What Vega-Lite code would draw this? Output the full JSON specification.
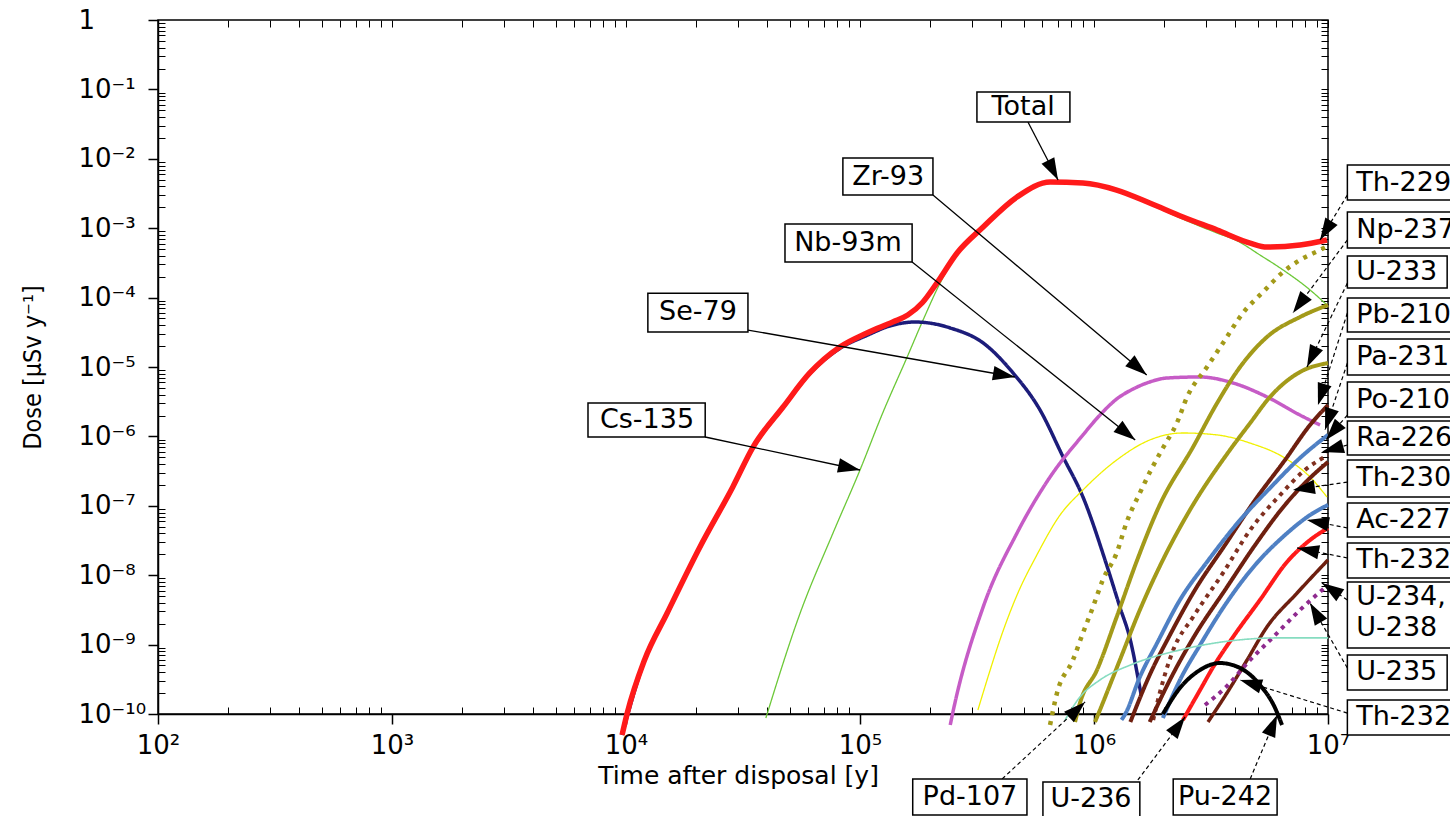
{
  "$schema": "https://vega.github.io/schema/vega-lite/v6.json",
  "width": 1170,
  "height": 694,
  "autosize": "none",
  "padding": {"left": 158, "top": 20, "right": 122, "bottom": 102},
  "background": "white",
  "config": {
    "view": {"stroke": "black", "strokeWidth": 1.5},
    "font": "DejaVu Sans",
    "axis": {"domainColor": "black", "tickColor": "black", "labelColor": "black", "titleColor": "black", "grid": false}
  },
  "datasets": {
    "series": [
      {"nuclide": "Total", "time": 9620, "dose": 4.98e-11},
      {"nuclide": "Total", "time": 10100, "dose": 1e-10},
      {"nuclide": "Total", "time": 12000, "dose": 6.0e-10},
      {"nuclide": "Total", "time": 15000, "dose": 2.85e-9},
      {"nuclide": "Total", "time": 20700, "dose": 2.55e-8},
      {"nuclide": "Total", "time": 28600, "dose": 1.87e-7},
      {"nuclide": "Total", "time": 34900, "dose": 7.0e-7},
      {"nuclide": "Total", "time": 46900, "dose": 2.65e-6},
      {"nuclide": "Total", "time": 61000, "dose": 8.2e-6},
      {"nuclide": "Total", "time": 82000, "dose": 1.94e-5},
      {"nuclide": "Total", "time": 107000, "dose": 3.09e-5},
      {"nuclide": "Total", "time": 138000, "dose": 4.45e-5},
      {"nuclide": "Total", "time": 160000, "dose": 5.6e-5},
      {"nuclide": "Total", "time": 185000, "dose": 8.5e-5},
      {"nuclide": "Total", "time": 213000, "dose": 1.62e-4},
      {"nuclide": "Total", "time": 260000, "dose": 4.4e-4},
      {"nuclide": "Total", "time": 336000, "dose": 1.04e-3},
      {"nuclide": "Total", "time": 469000, "dose": 2.82e-3},
      {"nuclide": "Total", "time": 650000, "dose": 4.63e-3},
      {"nuclide": "Total", "time": 897000, "dose": 4.48e-3},
      {"nuclide": "Total", "time": 1250000, "dose": 3.55e-3},
      {"nuclide": "Total", "time": 1730000, "dose": 2.31e-3},
      {"nuclide": "Total", "time": 2400000, "dose": 1.45e-3},
      {"nuclide": "Total", "time": 3360000, "dose": 9.4e-4},
      {"nuclide": "Total", "time": 4650000, "dose": 6.1e-4},
      {"nuclide": "Total", "time": 5490000, "dose": 5.36e-4},
      {"nuclide": "Total", "time": 7590000, "dose": 5.73e-4},
      {"nuclide": "Total", "time": 9900000, "dose": 6.76e-4},

      {"nuclide": "Cs-135", "time": 39600, "dose": 8.75e-11},
      {"nuclide": "Cs-135", "time": 55500, "dose": 2.85e-9},
      {"nuclide": "Cs-135", "time": 76700, "dose": 4.06e-8},
      {"nuclide": "Cs-135", "time": 100000, "dose": 3.28e-7},
      {"nuclide": "Cs-135", "time": 125000, "dose": 2.17e-6},
      {"nuclide": "Cs-135", "time": 159000, "dose": 1.39e-5},
      {"nuclide": "Cs-135", "time": 186000, "dose": 4.75e-5},
      {"nuclide": "Cs-135", "time": 220000, "dose": 1.62e-4},
      {"nuclide": "Cs-135", "time": 260000, "dose": 4.2e-4},
      {"nuclide": "Cs-135", "time": 336000, "dose": 1.0e-3},
      {"nuclide": "Cs-135", "time": 469000, "dose": 2.75e-3},
      {"nuclide": "Cs-135", "time": 650000, "dose": 4.5e-3},
      {"nuclide": "Cs-135", "time": 897000, "dose": 4.35e-3},
      {"nuclide": "Cs-135", "time": 1250000, "dose": 3.45e-3},
      {"nuclide": "Cs-135", "time": 1730000, "dose": 2.2e-3},
      {"nuclide": "Cs-135", "time": 2400000, "dose": 1.35e-3},
      {"nuclide": "Cs-135", "time": 3360000, "dose": 8.5e-4},
      {"nuclide": "Cs-135", "time": 4080000, "dose": 6.6e-4},
      {"nuclide": "Cs-135", "time": 5120000, "dose": 4.11e-4},
      {"nuclide": "Cs-135", "time": 6430000, "dose": 2.5e-4},
      {"nuclide": "Cs-135", "time": 8380000, "dose": 1.29e-4},
      {"nuclide": "Cs-135", "time": 9900000, "dose": 7.8e-5},

      {"nuclide": "Se-79", "time": 9620, "dose": 4.98e-11},
      {"nuclide": "Se-79", "time": 12000, "dose": 5.9e-10},
      {"nuclide": "Se-79", "time": 15000, "dose": 2.8e-9},
      {"nuclide": "Se-79", "time": 20700, "dose": 2.5e-8},
      {"nuclide": "Se-79", "time": 28600, "dose": 1.83e-7},
      {"nuclide": "Se-79", "time": 34900, "dose": 6.8e-7},
      {"nuclide": "Se-79", "time": 46900, "dose": 2.6e-6},
      {"nuclide": "Se-79", "time": 61000, "dose": 8.0e-6},
      {"nuclide": "Se-79", "time": 82000, "dose": 1.85e-5},
      {"nuclide": "Se-79", "time": 107000, "dose": 2.85e-5},
      {"nuclide": "Se-79", "time": 134000, "dose": 3.9e-5},
      {"nuclide": "Se-79", "time": 172000, "dose": 4.45e-5},
      {"nuclide": "Se-79", "time": 209000, "dose": 4.17e-5},
      {"nuclide": "Se-79", "time": 243000, "dose": 3.65e-5},
      {"nuclide": "Se-79", "time": 336000, "dose": 2.22e-5},
      {"nuclide": "Se-79", "time": 451000, "dose": 8.2e-6},
      {"nuclide": "Se-79", "time": 588000, "dose": 2.4e-6},
      {"nuclide": "Se-79", "time": 738000, "dose": 5.05e-7},
      {"nuclide": "Se-79", "time": 897000, "dose": 1.34e-7},
      {"nuclide": "Se-79", "time": 1140000, "dose": 1.31e-8},
      {"nuclide": "Se-79", "time": 1290000, "dose": 3.48e-9},
      {"nuclide": "Se-79", "time": 1430000, "dose": 1.16e-9},
      {"nuclide": "Se-79", "time": 1540000, "dose": 3.4e-10},
      {"nuclide": "Se-79", "time": 1590000, "dose": 1.88e-10},

      {"nuclide": "Zr-93", "time": 243000, "dose": 6.94e-11},
      {"nuclide": "Zr-93", "time": 249000, "dose": 1.03e-10},
      {"nuclide": "Zr-93", "time": 336000, "dose": 3.48e-9},
      {"nuclide": "Zr-93", "time": 469000, "dose": 4.06e-8},
      {"nuclide": "Zr-93", "time": 649000, "dose": 2.6e-7},
      {"nuclide": "Zr-93", "time": 897000, "dose": 1.05e-6},
      {"nuclide": "Zr-93", "time": 1060000, "dose": 2.03e-6},
      {"nuclide": "Zr-93", "time": 1250000, "dose": 3.46e-6},
      {"nuclide": "Zr-93", "time": 1470000, "dose": 4.82e-6},
      {"nuclide": "Zr-93", "time": 1730000, "dose": 6.08e-6},
      {"nuclide": "Zr-93", "time": 2050000, "dose": 6.94e-6},
      {"nuclide": "Zr-93", "time": 2840000, "dose": 7.18e-6},
      {"nuclide": "Zr-93", "time": 3930000, "dose": 5.88e-6},
      {"nuclide": "Zr-93", "time": 5490000, "dose": 3.7e-6},
      {"nuclide": "Zr-93", "time": 7590000, "dose": 2.03e-6},
      {"nuclide": "Zr-93", "time": 9250000, "dose": 1.46e-6},

      {"nuclide": "Nb-93m", "time": 319000, "dose": 1.14e-10},
      {"nuclide": "Nb-93m", "time": 360000, "dose": 4.31e-10},
      {"nuclide": "Nb-93m", "time": 396000, "dose": 1.16e-9},
      {"nuclide": "Nb-93m", "time": 469000, "dose": 5.19e-9},
      {"nuclide": "Nb-93m", "time": 570000, "dose": 1.96e-8},
      {"nuclide": "Nb-93m", "time": 716000, "dose": 7.36e-8},
      {"nuclide": "Nb-93m", "time": 897000, "dose": 1.69e-7},
      {"nuclide": "Nb-93m", "time": 1250000, "dose": 4.57e-7},
      {"nuclide": "Nb-93m", "time": 1730000, "dose": 8.87e-7},
      {"nuclide": "Nb-93m", "time": 2400000, "dose": 1.12e-6},
      {"nuclide": "Nb-93m", "time": 3360000, "dose": 1.05e-6},
      {"nuclide": "Nb-93m", "time": 4650000, "dose": 8.0e-7},
      {"nuclide": "Nb-93m", "time": 6430000, "dose": 5.05e-7},
      {"nuclide": "Nb-93m", "time": 8380000, "dose": 2.6e-7},
      {"nuclide": "Nb-93m", "time": 9900000, "dose": 1.34e-7},

      {"nuclide": "Th-229", "time": 649000, "dose": 6.94e-11},
      {"nuclide": "Th-229", "time": 695000, "dose": 2.01e-10},
      {"nuclide": "Th-229", "time": 813000, "dose": 6.0e-10},
      {"nuclide": "Th-229", "time": 897000, "dose": 1.47e-9},
      {"nuclide": "Th-229", "time": 990000, "dose": 3.48e-9},
      {"nuclide": "Th-229", "time": 1090000, "dose": 8.53e-9},
      {"nuclide": "Th-229", "time": 1250000, "dose": 2.09e-8},
      {"nuclide": "Th-229", "time": 1380000, "dose": 5.85e-8},
      {"nuclide": "Th-229", "time": 1570000, "dose": 1.53e-7},
      {"nuclide": "Th-229", "time": 1770000, "dose": 3.51e-7},
      {"nuclide": "Th-229", "time": 1970000, "dose": 6.81e-7},
      {"nuclide": "Th-229", "time": 2260000, "dose": 1.56e-6},
      {"nuclide": "Th-229", "time": 2500000, "dose": 3.7e-6},
      {"nuclide": "Th-229", "time": 3040000, "dose": 1.0e-5},
      {"nuclide": "Th-229", "time": 3560000, "dose": 2.22e-5},
      {"nuclide": "Th-229", "time": 4330000, "dose": 6.0e-5},
      {"nuclide": "Th-229", "time": 5270000, "dose": 1.2e-4},
      {"nuclide": "Th-229", "time": 6430000, "dose": 2.34e-4},
      {"nuclide": "Th-229", "time": 7590000, "dose": 3.48e-4},
      {"nuclide": "Th-229", "time": 9250000, "dose": 4.85e-4},
      {"nuclide": "Th-229", "time": 10000000, "dose": 5.54e-4},

      {"nuclide": "Np-237", "time": 830000, "dose": 7.67e-11},
      {"nuclide": "Np-237", "time": 871000, "dose": 1.44e-10},
      {"nuclide": "Np-237", "time": 1030000, "dose": 4.31e-10},
      {"nuclide": "Np-237", "time": 1250000, "dose": 2.5e-9},
      {"nuclide": "Np-237", "time": 1530000, "dose": 1.66e-8},
      {"nuclide": "Np-237", "time": 1910000, "dose": 1.03e-7},
      {"nuclide": "Np-237", "time": 2650000, "dose": 7.03e-7},
      {"nuclide": "Np-237", "time": 3360000, "dose": 3.03e-6},
      {"nuclide": "Np-237", "time": 4210000, "dose": 1.0e-5},
      {"nuclide": "Np-237", "time": 5480000, "dose": 2.7e-5},
      {"nuclide": "Np-237", "time": 7590000, "dose": 5.25e-5},
      {"nuclide": "Np-237", "time": 10000000, "dose": 7.82e-5},

      {"nuclide": "U-233", "time": 1010000, "dose": 7.67e-11},
      {"nuclide": "U-233", "time": 1060000, "dose": 1.14e-10},
      {"nuclide": "U-233", "time": 1290000, "dose": 6.0e-10},
      {"nuclide": "U-233", "time": 1570000, "dose": 3.15e-9},
      {"nuclide": "U-233", "time": 1970000, "dose": 1.66e-8},
      {"nuclide": "U-233", "time": 2570000, "dose": 8.69e-8},
      {"nuclide": "U-233", "time": 3810000, "dose": 6.37e-7},
      {"nuclide": "U-233", "time": 4650000, "dose": 1.56e-6},
      {"nuclide": "U-233", "time": 5650000, "dose": 3.7e-6},
      {"nuclide": "U-233", "time": 7590000, "dose": 8.47e-6},
      {"nuclide": "U-233", "time": 10000000, "dose": 1.14e-5},

      {"nuclide": "Pb-210", "time": 1430000, "dose": 7.67e-11},
      {"nuclide": "Pb-210", "time": 1730000, "dose": 3.65e-10},
      {"nuclide": "Pb-210", "time": 2110000, "dose": 1.37e-9},
      {"nuclide": "Pb-210", "time": 2700000, "dose": 6.12e-9},
      {"nuclide": "Pb-210", "time": 3630000, "dose": 2.72e-8},
      {"nuclide": "Pb-210", "time": 4880000, "dose": 1.21e-7},
      {"nuclide": "Pb-210", "time": 6550000, "dose": 4.57e-7},
      {"nuclide": "Pb-210", "time": 8380000, "dose": 1.46e-6},
      {"nuclide": "Pb-210", "time": 10000000, "dose": 2.83e-6},

      {"nuclide": "Ra-226", "time": 1310000, "dose": 8.2e-11},
      {"nuclide": "Ra-226", "time": 1360000, "dose": 1e-10},
      {"nuclide": "Ra-226", "time": 1570000, "dose": 3.41e-10},
      {"nuclide": "Ra-226", "time": 1860000, "dose": 1.05e-9},
      {"nuclide": "Ra-226", "time": 2330000, "dose": 4.4e-9},
      {"nuclide": "Ra-226", "time": 3040000, "dose": 1.55e-8},
      {"nuclide": "Ra-226", "time": 4210000, "dose": 6.24e-8},
      {"nuclide": "Ra-226", "time": 5650000, "dose": 1.8e-7},
      {"nuclide": "Ra-226", "time": 7590000, "dose": 4.89e-7},
      {"nuclide": "Ra-226", "time": 10000000, "dose": 1.05e-6},

      {"nuclide": "Th-230", "time": 1790000, "dose": 8.2e-11},
      {"nuclide": "Th-230", "time": 1910000, "dose": 2.01e-10},
      {"nuclide": "Th-230", "time": 2180000, "dose": 8.36e-10},
      {"nuclide": "Th-230", "time": 2650000, "dose": 2.5e-9},
      {"nuclide": "Th-230", "time": 3560000, "dose": 1.08e-8},
      {"nuclide": "Th-230", "time": 4650000, "dose": 4.48e-8},
      {"nuclide": "Th-230", "time": 6240000, "dose": 1.43e-7},
      {"nuclide": "Th-230", "time": 7970000, "dose": 3.28e-7},
      {"nuclide": "Th-230", "time": 10000000, "dose": 5.4e-7},

      {"nuclide": "Pa-231", "time": 1730000, "dose": 7.67e-11},
      {"nuclide": "Pa-231", "time": 2110000, "dose": 3.09e-10},
      {"nuclide": "Pa-231", "time": 2700000, "dose": 1.37e-9},
      {"nuclide": "Pa-231", "time": 3630000, "dose": 6.12e-9},
      {"nuclide": "Pa-231", "time": 4880000, "dose": 2.72e-8},
      {"nuclide": "Pa-231", "time": 6550000, "dose": 1.03e-7},
      {"nuclide": "Pa-231", "time": 8380000, "dose": 2.52e-7},
      {"nuclide": "Pa-231", "time": 10000000, "dose": 4.28e-7},

      {"nuclide": "Ac-227", "time": 1970000, "dose": 8.75e-11},
      {"nuclide": "Ac-227", "time": 2330000, "dose": 3.09e-10},
      {"nuclide": "Ac-227", "time": 2840000, "dose": 9.87e-10},
      {"nuclide": "Ac-227", "time": 3630000, "dose": 3.72e-9},
      {"nuclide": "Ac-227", "time": 4880000, "dose": 1.4e-8},
      {"nuclide": "Ac-227", "time": 6550000, "dose": 3.79e-8},
      {"nuclide": "Ac-227", "time": 8380000, "dose": 7.36e-8},
      {"nuclide": "Ac-227", "time": 10000000, "dose": 1.03e-7},

      {"nuclide": "U-236", "time": 2400000, "dose": 8.2e-11},
      {"nuclide": "U-236", "time": 2840000, "dose": 2.22e-10},
      {"nuclide": "U-236", "time": 3230000, "dose": 4.75e-10},
      {"nuclide": "U-236", "time": 3930000, "dose": 1.29e-9},
      {"nuclide": "U-236", "time": 5120000, "dose": 4.4e-9},
      {"nuclide": "U-236", "time": 6680000, "dose": 1.55e-8},
      {"nuclide": "U-236", "time": 8380000, "dose": 3.21e-8},
      {"nuclide": "U-236", "time": 10000000, "dose": 4.79e-8},

      {"nuclide": "Th-232", "time": 3070000, "dose": 7.67e-11},
      {"nuclide": "Th-232", "time": 3700000, "dose": 2.01e-10},
      {"nuclide": "Th-232", "time": 4510000, "dose": 6.0e-10},
      {"nuclide": "Th-232", "time": 5480000, "dose": 1.79e-9},
      {"nuclide": "Th-232", "time": 7380000, "dose": 5.54e-9},
      {"nuclide": "Th-232", "time": 10000000, "dose": 1.66e-8},

      {"nuclide": "U-234", "time": 2980000, "dose": 1.35e-10},
      {"nuclide": "U-234", "time": 3630000, "dose": 2.37e-10},
      {"nuclide": "U-234", "time": 4650000, "dose": 6.0e-10},
      {"nuclide": "U-234", "time": 5940000, "dose": 1.37e-9},
      {"nuclide": "U-234", "time": 7590000, "dose": 3.15e-9},
      {"nuclide": "U-234", "time": 10000000, "dose": 7.23e-9},

      {"nuclide": "Pd-107", "time": 752000, "dose": 8.2e-11},
      {"nuclide": "Pd-107", "time": 871000, "dose": 1.76e-10},
      {"nuclide": "Pd-107", "time": 1060000, "dose": 3.09e-10},
      {"nuclide": "Pd-107", "time": 1430000, "dose": 5.08e-10},
      {"nuclide": "Pd-107", "time": 2330000, "dose": 8.36e-10},
      {"nuclide": "Pd-107", "time": 3810000, "dose": 1.13e-9},
      {"nuclide": "Pd-107", "time": 6240000, "dose": 1.25e-9},
      {"nuclide": "Pd-107", "time": 10000000, "dose": 1.25e-9},

      {"nuclide": "Pu-242", "time": 1970000, "dose": 1e-10},
      {"nuclide": "Pu-242", "time": 2330000, "dose": 2.37e-10},
      {"nuclide": "Pu-242", "time": 2840000, "dose": 4.31e-10},
      {"nuclide": "Pu-242", "time": 3450000, "dose": 5.43e-10},
      {"nuclide": "Pu-242", "time": 4210000, "dose": 4.6e-10},
      {"nuclide": "Pu-242", "time": 5120000, "dose": 2.62e-10},
      {"nuclide": "Pu-242", "time": 5940000, "dose": 1.22e-10},
      {"nuclide": "Pu-242", "time": 6360000, "dose": 6.94e-11}
    ],
    "boxes": [
      {"name": "Total", "x1": 316000, "x2": 789000, "y1": 9.18e-2, "y2": 3.39e-2},
      {"name": "Zr-93", "x1": 84500, "x2": 205000, "y1": 1.03e-2, "y2": 3.01e-3},
      {"name": "Nb-93m", "x1": 47800, "x2": 167000, "y1": 1.15e-3, "y2": 3.26e-4},
      {"name": "Se-79", "x1": 12400, "x2": 33200, "y1": 1.16e-4, "y2": 3.19e-5},
      {"name": "Cs-135", "x1": 6880, "x2": 21800, "y1": 3.03e-6, "y2": 9.8e-7},
      {"name": "Pd-107", "x1": 168000, "x2": 517000, "y1": 1.16e-11, "y2": 3.51e-12},
      {"name": "U-236", "x1": 605000, "x2": 1570000, "y1": 1.05e-11, "y2": 3.28e-12},
      {"name": "Pu-242", "x1": 2180000, "x2": 6060000, "y1": 1.16e-11, "y2": 3.51e-12},
      {"name": "Th-229", "x1": 12100000, "x2": 36600000, "y1": 8.15e-3, "y2": 2.55e-3},
      {"name": "Np-237", "x1": 12100000, "x2": 36600000, "y1": 1.71e-3, "y2": 5.19e-4},
      {"name": "U-233", "x1": 12100000, "x2": 32300000, "y1": 3.97e-4, "y2": 1.37e-4},
      {"name": "Pb-210", "x1": 12100000, "x2": 36600000, "y1": 9.87e-5, "y2": 3.19e-5},
      {"name": "Pa-231", "x1": 12100000, "x2": 36600000, "y1": 2.53e-5, "y2": 7.67e-6},
      {"name": "Po-210", "x1": 12100000, "x2": 36600000, "y1": 6.08e-6, "y2": 1.90e-6},
      {"name": "Ra-226", "x1": 12100000, "x2": 36600000, "y1": 1.67e-6, "y2": 5.40e-7},
      {"name": "Th-230", "x1": 12100000, "x2": 36600000, "y1": 4.57e-7, "y2": 1.34e-7},
      {"name": "Ac-227", "x1": 12100000, "x2": 36600000, "y1": 1.10e-7, "y2": 3.55e-8},
      {"name": "Th-232", "x1": 12100000, "x2": 36600000, "y1": 2.91e-8, "y2": 9.12e-9},
      {"name": "U-234, U-238", "x1": 12100000, "x2": 36600000, "y1": 7.98e-9, "y2": 8.93e-10},
      {"name": "U-235", "x1": 12100000, "x2": 32300000, "y1": 7.08e-10, "y2": 2.22e-10},
      {"name": "Th-232 (2)", "x1": 12100000, "x2": 36600000, "y1": 1.59e-10, "y2": 4.98e-11}
    ],
    "labels_center": [
      {"text": "Total", "x": 498000, "y": 5.58e-2},
      {"text": "Zr-93", "x": 132000, "y": 5.47e-3},
      {"text": "Nb-93m", "x": 88900, "y": 6.12e-4},
      {"text": "Se-79", "x": 20300, "y": 6.2e-5},
      {"text": "Cs-135", "x": 12300, "y": 1.72e-6},
      {"text": "Pd-107", "x": 295000, "y": 6.37e-12},
      {"text": "U-236", "x": 971000, "y": 5.96e-12},
      {"text": "Pu-242", "x": 3630000, "y": 6.37e-12}
    ],
    "labels_left": [
      {"text": "Th-229", "x": 13200000, "y": 4.48e-3},
      {"text": "Np-237", "x": 13200000, "y": 9.42e-4},
      {"text": "U-233", "x": 13200000, "y": 2.34e-4},
      {"text": "Pb-210", "x": 13200000, "y": 5.61e-5},
      {"text": "Pa-231", "x": 13200000, "y": 1.39e-5},
      {"text": "Po-210", "x": 13200000, "y": 3.34e-6},
      {"text": "Ra-226", "x": 13200000, "y": 9.48e-7},
      {"text": "Th-230", "x": 13200000, "y": 2.52e-7},
      {"text": "Ac-227", "x": 13200000, "y": 6.24e-8},
      {"text": "Th-232", "x": 13200000, "y": 1.66e-8},
      {"text": "U-234,", "x": 13200000, "y": 4.85e-9},
      {"text": "U-238", "x": 13200000, "y": 1.73e-9},
      {"text": "U-235", "x": 13200000, "y": 4.03e-10},
      {"text": "Th-232", "x": 13200000, "y": 9.06e-11}
    ],
    "arrows_solid": [
      {"name": "Total", "x": 522000, "y": 3.39e-2, "x2": 702000, "y2": 4.95e-3},
      {"name": "Zr-93", "x": 205000, "y": 3.01e-3, "x2": 1680000, "y2": 7.67e-6},
      {"name": "Nb-93m", "x": 167000, "y": 3.26e-4, "x2": 1500000, "y2": 8.87e-7},
      {"name": "Se-79", "x": 33200, "y": 3.41e-5, "x2": 459000, "y2": 7.18e-6},
      {"name": "Cs-135", "x": 21800, "y": 9.8e-7, "x2": 100000, "y2": 3.28e-7}
    ],
    "arrows_dashed": [
      {"name": "Pd-107", "x": 405000, "y": 1.16e-11, "x2": 916000, "y2": 1.49e-10},
      {"name": "U-236", "x": 1540000, "y": 1.12e-11, "x2": 2450000, "y2": 9.06e-11},
      {"name": "Pu-242", "x": 4650000, "y": 1.16e-11, "x2": 6060000, "y2": 9.68e-11},
      {"name": "Th-229", "x": 12100000, "y": 3.01e-3, "x2": 9250000, "y2": 6.76e-4},
      {"name": "Np-237", "x": 12100000, "y": 6.76e-4, "x2": 7080000, "y2": 6.0e-5},
      {"name": "U-233", "x": 12100000, "y": 1.62e-4, "x2": 8130000, "y2": 1.0e-5},
      {"name": "Pb-210", "x": 12100000, "y": 6.0e-5, "x2": 9060000, "y2": 2.83e-6},
      {"name": "Pa-231", "x": 12100000, "y": 1.14e-5, "x2": 9710000, "y2": 1.24e-6},
      {"name": "Po-210", "x": 12100000, "y": 2.03e-6, "x2": 9800000, "y2": 8.87e-7},
      {"name": "Ra-226", "x": 12100000, "y": 7.52e-7, "x2": 9420000, "y2": 5.96e-7},
      {"name": "Th-230", "x": 12100000, "y": 2.2e-7, "x2": 7080000, "y2": 1.69e-7},
      {"name": "Ac-227", "x": 12100000, "y": 4.79e-8, "x2": 8130000, "y2": 6.24e-8},
      {"name": "Th-232", "x": 12100000, "y": 1.77e-8, "x2": 7380000, "y2": 2.47e-8},
      {"name": "U-234, U-238", "x": 12100000, "y": 4.40e-9, "x2": 9420000, "y2": 7.72e-9},
      {"name": "U-235", "x": 12100000, "y": 4.60e-10, "x2": 8380000, "y2": 3.97e-9},
      {"name": "Th-232 (2)", "x": 12100000, "y": 1.03e-10, "x2": 4210000, "y2": 3.09e-10}
    ]
  },
  "resolve": {"axis": {"x": "independent", "y": "independent"}},
  "layer": [
    {
      "data": {"name": "series"},
      "transform": [{"filter": "datum.nuclide != 'Total'"}],
      "mark": {"type": "line", "strokeJoin": "round", "strokeCap": "butt", "interpolate": "monotone"},
      "encoding": {
        "x": {"field": "time", "type": "quantitative",
          "scale": {"type": "log", "domain": [100, 10000000], "nice": false},
          "axis": {"orient": "bottom", "values": [100, 1000, 10000, 100000, 1000000, 10000000],
            "tickSize": 10, "tickWidth": 1.5, "domainWidth": 1.5,
            "labelFont": "DejaVu Sans", "labelFontSize": 26, "labelPadding": 8, "labelFlush": false, "labelOverlap": false,
            "labelExpr": "'10' + ['⁰','¹','²','³','⁴','⁵','⁶','⁷'][round(log(datum.value)/LN10)]",
            "title": "Time after disposal [y]", "titleFont": "DejaVu Sans", "titleFontSize": 25, "titleFontWeight": "normal",
            "titleY": 61, "titleX": 580, "titleBaseline": "middle"}},
        "y": {"field": "dose", "type": "quantitative",
          "scale": {"type": "log", "domain": [1e-10, 1], "nice": false},
          "axis": {"orient": "left", "values": [1e-10, 1e-9, 1e-8, 1e-7, 1e-6, 1e-5, 1e-4, 1e-3, 1e-2, 1e-1, 1],
            "tickSize": 10, "tickWidth": 1.5, "domainWidth": 1.5,
            "labelFont": "DejaVu Sans", "labelFontSize": 26, "labelPadding": 70, "labelAlign": "left", "labelBaseline": "middle",
            "labelFlush": false, "labelOverlap": false,
            "labelExpr": "datum.value >= 0.99 ? ' 1' : '10⁻' + ['','¹','²','³','⁴','⁵','⁶','⁷','⁸','⁹','¹⁰'][round(-log(datum.value)/LN10)]",
            "title": "Dose [µSv y⁻¹]", "titleFont": "DejaVu Sans Condensed, DejaVu Sans", "titleFontSize": 25, "titleFontWeight": "normal",
            "titleX": -126, "titleY": 347, "titleAngle": -90, "titleBaseline": "middle", "titleAlign": "center"}},
        "color": {"field": "nuclide", "type": "nominal", "legend": null,
          "scale": {"domain": ["Cs-135","Se-79","Zr-93","Nb-93m","Th-229","Np-237","U-233","Pb-210","Ra-226","Th-230","Pa-231","Ac-227","U-236","Th-232","U-234","Pd-107","Pu-242"],
            "range": ["#6cc838","#1c1c7a","#c65cc6","#f0f000","#a39a19","#a39a19","#a39a19","#6e1f0f","#4f80c4","#803020","#6e1f0f","#4f80c4","#ff1a1a","#6e1f0f","#8f2a8f","#86dcc0","#000000"]}},
        "strokeWidth": {"field": "nuclide", "type": "nominal", "legend": null,
          "scale": {"type": "ordinal", "domain": ["Cs-135","Se-79","Zr-93","Nb-93m","Th-229","Np-237","U-233","Pb-210","Ra-226","Th-230","Pa-231","Ac-227","U-236","Th-232","U-234","Pd-107","Pu-242"],
            "range": [1.3, 3.5, 3.5, 1.3, 4.5, 4, 4, 4, 4, 4, 4, 4, 4, 3.5, 4, 1.6, 4]}},
        "strokeDash": {"field": "nuclide", "type": "nominal", "legend": null,
          "scale": {"domain": ["Cs-135","Se-79","Zr-93","Nb-93m","Th-229","Np-237","U-233","Pb-210","Ra-226","Th-230","Pa-231","Ac-227","U-236","Th-232","U-234","Pd-107","Pu-242"],
            "range": [[1,0],[1,0],[1,0],[1,0],[4,6],[1,0],[1,0],[1,0],[1,0],[4,5],[1,0],[1,0],[1,0],[1,0],[4,5],[1,0],[1,0]]}}
      }
    },
    {
      "data": {"name": "series"},
      "transform": [{"filter": "datum.nuclide == 'Total'"}],
      "mark": {"type": "line", "color": "#ff1a1a", "strokeWidth": 5.5, "strokeJoin": "round", "interpolate": "monotone"},
      "encoding": {
        "x": {"field": "time", "type": "quantitative",
          "scale": {"type": "log", "domain": [100, 10000000], "nice": false},
          "axis": {"orient": "bottom", "values": [200,300,400,500,600,700,800,900,2000,3000,4000,5000,6000,7000,8000,9000,20000,30000,40000,50000,60000,70000,80000,90000,200000,300000,400000,500000,600000,700000,800000,900000,2000000,3000000,4000000,5000000,6000000,7000000,8000000,9000000],
            "tickSize": -7, "tickWidth": 1, "labels": false, "domain": false, "title": null}},
        "y": {"field": "dose", "type": "quantitative",
          "scale": {"type": "log", "domain": [1e-10, 1], "nice": false},
          "axis": {"orient": "left", "values": [2e-10,3e-10,4e-10,5e-10,6e-10,7e-10,8e-10,9e-10,2e-9,3e-9,4e-9,5e-9,6e-9,7e-9,8e-9,9e-9,2e-8,3e-8,4e-8,5e-8,6e-8,7e-8,8e-8,9e-8,2e-7,3e-7,4e-7,5e-7,6e-7,7e-7,8e-7,9e-7,2e-6,3e-6,4e-6,5e-6,6e-6,7e-6,8e-6,9e-6,2e-5,3e-5,4e-5,5e-5,6e-5,7e-5,8e-5,9e-5,2e-4,3e-4,4e-4,5e-4,6e-4,7e-4,8e-4,9e-4,2e-3,3e-3,4e-3,5e-3,6e-3,7e-3,8e-3,9e-3,2e-2,3e-2,4e-2,5e-2,6e-2,7e-2,8e-2,9e-2,0.2,0.3,0.4,0.5,0.6,0.7,0.8,0.9],
            "tickSize": -7, "tickWidth": 1, "labels": false, "domain": false, "title": null}}
      }
    },
    {
      "data": {"name": "arrows_solid"},
      "mark": {"type": "rule", "color": "black", "strokeWidth": 1.3},
      "encoding": {
        "x": {"field": "x", "type": "quantitative",
          "scale": {"type": "log", "domain": [100, 10000000], "nice": false},
          "axis": {"orient": "top", "values": [100,1000,10000,100000,1000000,10000000,200,300,400,500,600,700,800,900,2000,3000,4000,5000,6000,7000,8000,9000,20000,30000,40000,50000,60000,70000,80000,90000,200000,300000,400000,500000,600000,700000,800000,900000,2000000,3000000,4000000,5000000,6000000,7000000,8000000,9000000],
            "tickSize": -7, "tickWidth": 1, "labels": false, "domain": false, "title": null}},
        "y": {"field": "y", "type": "quantitative",
          "scale": {"type": "log", "domain": [1e-10, 1], "nice": false},
          "axis": {"orient": "right", "values": [1e-10,1e-9,1e-8,1e-7,1e-6,1e-5,1e-4,1e-3,1e-2,1e-1,1,2e-10,3e-10,4e-10,5e-10,6e-10,7e-10,8e-10,9e-10,2e-9,3e-9,4e-9,5e-9,6e-9,7e-9,8e-9,9e-9,2e-8,3e-8,4e-8,5e-8,6e-8,7e-8,8e-8,9e-8,2e-7,3e-7,4e-7,5e-7,6e-7,7e-7,8e-7,9e-7,2e-6,3e-6,4e-6,5e-6,6e-6,7e-6,8e-6,9e-6,2e-5,3e-5,4e-5,5e-5,6e-5,7e-5,8e-5,9e-5,2e-4,3e-4,4e-4,5e-4,6e-4,7e-4,8e-4,9e-4,2e-3,3e-3,4e-3,5e-3,6e-3,7e-3,8e-3,9e-3,2e-2,3e-2,4e-2,5e-2,6e-2,7e-2,8e-2,9e-2,0.2,0.3,0.4,0.5,0.6,0.7,0.8,0.9],
            "tickSize": -7, "tickWidth": 1, "labels": false, "domain": false, "title": null}},
        "x2": {"field": "x2"},
        "y2": {"field": "y2"}
      }
    },
    {
      "data": {"name": "arrows_dashed"},
      "mark": {"type": "rule", "color": "black", "strokeWidth": 1.2, "strokeDash": [4, 3]},
      "encoding": {
        "x": {"field": "x", "type": "quantitative", "scale": {"type": "log", "domain": [100, 10000000], "nice": false}, "axis": null},
        "y": {"field": "y", "type": "quantitative", "scale": {"type": "log", "domain": [1e-10, 1], "nice": false}, "axis": null},
        "x2": {"field": "x2"},
        "y2": {"field": "y2"}
      }
    },
    {
      "data": {"name": "arrows_solid"},
      "transform": [{"calculate": "atan2((log(datum.x2)-log(datum.x))/LN10*234, (log(datum.y2)-log(datum.y))/LN10*69.4)*180/PI", "as": "ang"}],
      "mark": {"type": "point", "shape": "M0,0L-0.36,1.1L0.36,1.1Z", "size": 1600, "filled": true, "color": "black", "opacity": 1},
      "encoding": {
        "x": {"field": "x2", "type": "quantitative", "scale": {"type": "log", "domain": [100, 10000000], "nice": false}, "axis": null},
        "y": {"field": "y2", "type": "quantitative", "scale": {"type": "log", "domain": [1e-10, 1], "nice": false}, "axis": null},
        "angle": {"field": "ang", "type": "quantitative", "scale": null}
      }
    },
    {
      "data": {"name": "arrows_dashed"},
      "transform": [{"calculate": "atan2((log(datum.x2)-log(datum.x))/LN10*234, (log(datum.y2)-log(datum.y))/LN10*69.4)*180/PI", "as": "ang"}],
      "mark": {"type": "point", "shape": "M0,0L-0.36,1.1L0.36,1.1Z", "size": 1600, "filled": true, "color": "black", "opacity": 1},
      "encoding": {
        "x": {"field": "x2", "type": "quantitative", "scale": {"type": "log", "domain": [100, 10000000], "nice": false}, "axis": null},
        "y": {"field": "y2", "type": "quantitative", "scale": {"type": "log", "domain": [1e-10, 1], "nice": false}, "axis": null},
        "angle": {"field": "ang", "type": "quantitative", "scale": null}
      }
    },
    {
      "data": {"name": "boxes"},
      "mark": {"type": "rect", "fill": "white", "stroke": "black", "strokeWidth": 1.5},
      "encoding": {
        "x": {"field": "x1", "type": "quantitative", "scale": {"type": "log", "domain": [100, 10000000], "nice": false}, "axis": null},
        "x2": {"field": "x2"},
        "y": {"field": "y1", "type": "quantitative", "scale": {"type": "log", "domain": [1e-10, 1], "nice": false}, "axis": null},
        "y2": {"field": "y2"}
      }
    },
    {
      "data": {"name": "labels_center"},
      "mark": {"type": "text", "font": "DejaVu Sans", "fontSize": 27, "color": "black", "align": "center", "baseline": "middle"},
      "encoding": {
        "x": {"field": "x", "type": "quantitative", "scale": {"type": "log", "domain": [100, 10000000], "nice": false}, "axis": null},
        "y": {"field": "y", "type": "quantitative", "scale": {"type": "log", "domain": [1e-10, 1], "nice": false}, "axis": null},
        "text": {"field": "text"}
      }
    },
    {
      "data": {"name": "labels_left"},
      "mark": {"type": "text", "font": "DejaVu Sans", "fontSize": 27, "color": "black", "align": "left", "baseline": "middle"},
      "encoding": {
        "x": {"field": "x", "type": "quantitative", "scale": {"type": "log", "domain": [100, 10000000], "nice": false}, "axis": null},
        "y": {"field": "y", "type": "quantitative", "scale": {"type": "log", "domain": [1e-10, 1], "nice": false}, "axis": null},
        "text": {"field": "text"}
      }
    }
  ]
}
